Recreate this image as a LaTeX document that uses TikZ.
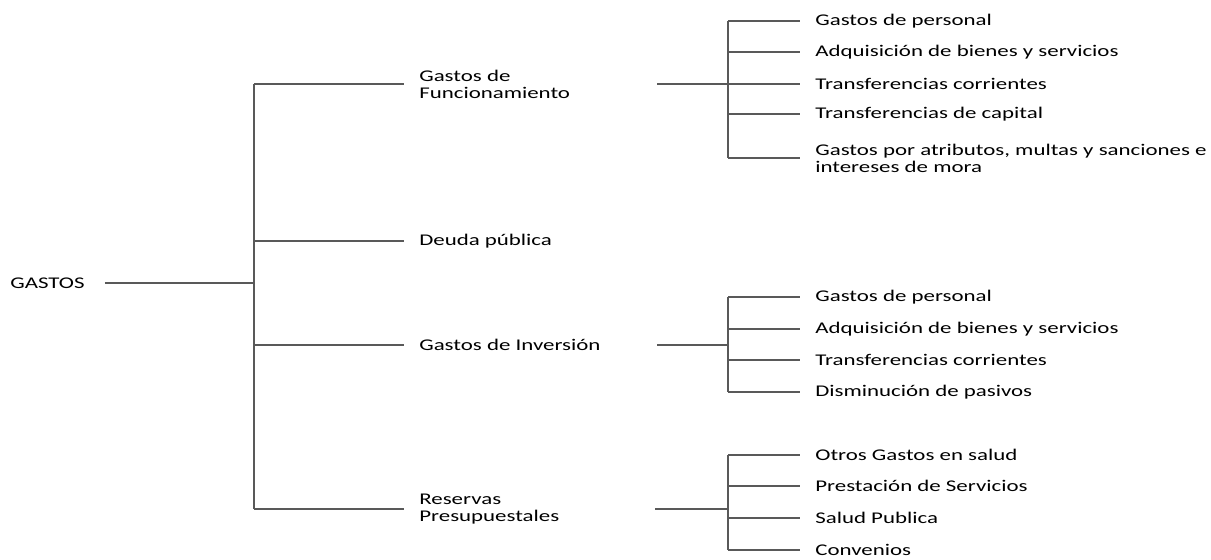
\documentclass[tikz,border=0pt]{standalone}
\usepackage{fontspec}
\setmainfont{Carlito}[FakeStretch=1.4]
\tikzset{
	txt/.style={anchor=west,inner sep=0pt,align=left,font=\fontsize{9.3}{9.8}\selectfont},
	rama/.style={black!65,line width=0.6pt},
}
\begin{document}
\begin{tikzpicture}[x=0.02cm,y=-0.02cm]
\useasboundingbox (0,0) rectangle (1211,559);
%Gitter
%\draw[step=50,very thin,black!20] (0,0) grid(1211,559);

%Stufe 0
\node[txt] (gastos) at (10,283) {GASTOS};
\coordinate (g0) at (254,283);

%Stufe 1
\node[txt] (func) at (419,84) {Gastos de\\Funcionamiento};
\node[txt] (deuda) at (419,241) {Deuda pública};
\node[txt] (inv) at (419,345) {Gastos de Inversión};
\node[txt] (res) at (419,509) {Reservas\\Presupuestales};
\coordinate (g1) at (254,84);
\coordinate (g2) at (254,241);
\coordinate (g3) at (254,345);
\coordinate (g4) at (254,509);

%Stufe 2: Funcionamiento
\node[txt] (f1) at (815,21) {Gastos de personal};
\node[txt] (f2) at (815,52) {Adquisición de bienes y servicios};
\node[txt] (f3) at (815,84) {Transferencias corrientes};
\node[txt] (f4) at (815,114) {Transferencias de capital};
\node[txt] (f5) at (815,158) {Gastos por atributos, multas y sanciones e\\intereses de mora};
\coordinate (fa) at (657,84);
\coordinate (f0) at (728,84);
\coordinate (fo) at (728,21);
\coordinate (fu) at (728,158);

%Stufe 2: Inversion
\node[txt] (i1) at (815,297) {Gastos de personal};
\node[txt] (i2) at (815,329) {Adquisición de bienes y servicios};
\node[txt] (i3) at (815,360) {Transferencias corrientes};
\node[txt] (i4) at (815,392) {Disminución de pasivos};
\coordinate (ia) at (657,345);
\coordinate (i0) at (728,345);
\coordinate (io) at (728,297);
\coordinate (iu) at (728,392);

%Stufe 2: Reservas
\node[txt] (r1) at (815,455) {Otros Gastos en salud};
\node[txt] (r2) at (815,486) {Prestación de Servicios};
\node[txt] (r3) at (815,518) {Salud Publica};
\node[txt] (r4) at (815,550) {Convenios};
\coordinate (ra) at (655,509);
\coordinate (r0) at (728,509);
\coordinate (ro) at (728,455);
\coordinate (ru) at (728,550);

%Linien
\draw[rama] ([xshift=0.4cm]gastos.east) -- (g0);
\draw[rama] (g1) -- (g4);
\draw[rama] (g1) -- ([xshift=-0.3cm]func.west);
\draw[rama] (g2) -- ([xshift=-0.3cm]deuda.west);
\draw[rama] (g3) -- ([xshift=-0.3cm]inv.west);
\draw[rama] (g4) -- ([xshift=-0.3cm]res.west);

\draw[rama] (fa) -- (f0);
\draw[rama] (fo) -- (fu);
\draw[rama] (fo) -- ([xshift=-0.3cm]f1.west);
\draw[rama] (728,52) -- ([xshift=-0.3cm]f2.west);
\draw[rama] (f0) -- ([xshift=-0.3cm]f3.west);
\draw[rama] (728,114) -- ([xshift=-0.3cm]f4.west);
\draw[rama] (fu) -- ([xshift=-0.3cm]f5.west);

\draw[rama] (ia) -- (i0);
\draw[rama] (io) -- (iu);
\draw[rama] (io) -- ([xshift=-0.3cm]i1.west);
\draw[rama] (728,329) -- ([xshift=-0.3cm]i2.west);
\draw[rama] (728,360) -- ([xshift=-0.3cm]i3.west);
\draw[rama] (iu) -- ([xshift=-0.3cm]i4.west);

\draw[rama] (ra) -- (r0);
\draw[rama] (ro) -- (ru);
\draw[rama] (ro) -- ([xshift=-0.3cm]r1.west);
\draw[rama] (728,486) -- ([xshift=-0.3cm]r2.west);
\draw[rama] (728,518) -- ([xshift=-0.3cm]r3.west);
\draw[rama] (ru) -- ([xshift=-0.3cm]r4.west);
\end{tikzpicture}
\end{document}
